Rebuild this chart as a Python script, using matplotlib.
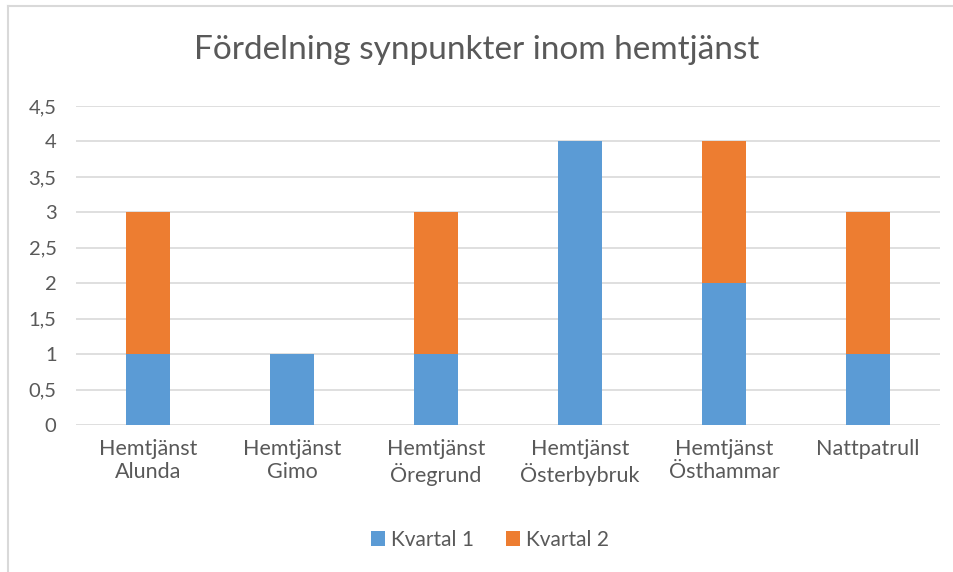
import matplotlib.pyplot as plt
from matplotlib.lines import Line2D
from matplotlib.ticker import FuncFormatter

kategorier = ["Hemtjänst\nAlunda", "Hemtjänst\nGimo", "Hemtjänst\nÖregrund",
              "Hemtjänst\nÖsterbybruk", "Hemtjänst\nÖsthammar", "Nattpatrull"]
kvartal1 = [1, 1, 1, 4, 2, 1]
kvartal2 = [2, 0, 2, 0, 2, 2]

blå = "#5B9BD5"
orange = "#ED7D31"
textfärg = "#595959"

plt.rcParams['font.family'] = ['Lato', 'DejaVu Sans']

fig = plt.figure(figsize=(9.54, 5.72), dpi=100)
ax = fig.add_axes([76/954, 1 - 425/572, (940-76)/954, (425-106)/572])

x = range(len(kategorier))
ax.bar(x, kvartal1, width=0.3, color=blå, label="Kvartal 1", zorder=3)
ax.bar(x, kvartal2, width=0.3, bottom=kvartal1, color=orange, label="Kvartal 2", zorder=3)

ax.set_xlim(-0.5, len(kategorier) - 0.5)
ax.set_ylim(0, 4.5)
ax.set_yticks([i * 0.5 for i in range(10)])
ax.yaxis.set_major_formatter(FuncFormatter(lambda v, p: f"{v:g}".replace(".", ",")))
ax.grid(axis="y", color="#D9D9D9", linewidth=1.2, zorder=0)
for s in ax.spines.values():
    s.set_visible(False)
ax.tick_params(length=0, labelsize=14.5, colors=textfärg, pad=14)
ax.tick_params(axis="x", labelsize=15.5, pad=10)
ax.set_xticks(list(x))
ax.set_xticklabels(kategorier, linespacing=1.2)

fig.text(0.5, 1 - 50/572, "Fördelning synpunkter inom hemtjänst", ha="center", va="center",
         fontsize=24, color=textfärg)

ax.legend(loc="center", bbox_to_anchor=(490/954, 1 - 540/572), bbox_transform=fig.transFigure,
          ncol=2, frameon=False, fontsize=15, labelcolor=textfärg, handlelength=0.7,
          handleheight=0.7, handletextpad=0.3, columnspacing=1.5)

# ram runt diagrammet
fig.add_artist(Line2D([8/954, 1], [1 - 6/572, 1 - 6/572], color="#D9D9D9", linewidth=1.5, transform=fig.transFigure))
fig.add_artist(Line2D([8/954, 8/954], [0, 1 - 6/572], color="#D9D9D9", linewidth=1.5, transform=fig.transFigure))

fig.savefig("out.png", dpi=100)
